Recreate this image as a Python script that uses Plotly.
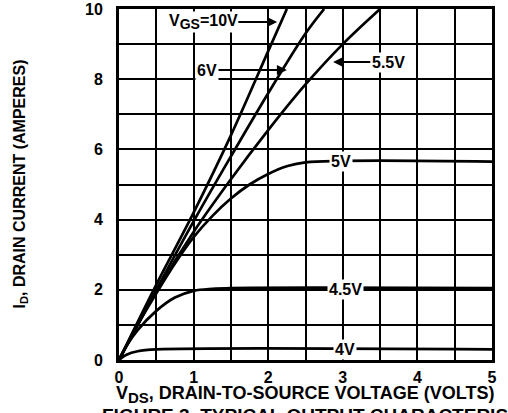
import plotly.graph_objects as go

# ---- data ----
vds_10 = [0, 0.5, 1.0, 1.5, 2.0, 2.25]
id_10 = [0, 2.15, 4.2, 6.4, 8.8, 10.0]

vds_6 = [0, 0.5, 1.0, 1.5, 2.0, 2.5, 2.75]
id_6 = [0, 2.0, 3.95, 5.8, 7.6, 9.3, 10.0]

vds_55 = [0, 0.5, 1.0, 1.5, 2.0, 2.5, 3.0, 3.5]
id_55 = [0, 1.95, 3.65, 5.15, 6.55, 7.85, 9.0, 10.0]

vds_5 = [0, 0.25, 0.5, 0.75, 1.0, 1.25, 1.5, 1.75, 2.0, 2.25, 2.5, 5.0]
id_5 = [0, 1.0, 1.9, 2.75, 3.5, 4.1, 4.6, 5.0, 5.3, 5.52, 5.63, 5.65]

vds_45 = [0, 0.1, 0.25, 0.5, 0.75, 1.0, 1.25, 1.5, 5.0]
id_45 = [0, 0.4, 0.85, 1.4, 1.78, 1.97, 2.03, 2.05, 2.05]

vds_4 = [0, 0.1, 0.25, 0.5, 5.0]
id_4 = [0, 0.15, 0.25, 0.3, 0.3]

x_ticks = [0, 1, 2, 3, 4, 5]
y_ticks = [0, 2, 4, 6, 8, 10]

curves = [(vds_10, id_10), (vds_6, id_6), (vds_55, id_55),
          (vds_5, id_5), (vds_45, id_45), (vds_4, id_4)]

FONT = "Liberation Sans"

fig = go.Figure()
for xs, ys in curves:
    fig.add_trace(go.Scatter(x=xs, y=ys, mode="lines",
                             line=dict(color="black", width=2.7, shape="spline"),
                             showlegend=False, hoverinfo="skip"))

fig.update_layout(
    width=508, height=413,
    margin=dict(l=119, r=16, t=9, b=53, autoexpand=False),
    paper_bgcolor="white", plot_bgcolor="white",
    font=dict(family=FONT, color="black"),
)
fig.update_xaxes(range=[0, 5], tickvals=x_ticks, showgrid=True, gridcolor="black", gridwidth=2,
                 minor=dict(dtick=0.5, showgrid=True, gridcolor="black", gridwidth=2),
                 showline=True, linecolor="black", linewidth=3, mirror=True, automargin=False,
                 zeroline=False, ticks="", ticklabelstandoff=1,
                 tickfont=dict(family=FONT, size=16, weight="bold", color="black"))
fig.update_yaxes(range=[0, 10], tickvals=y_ticks, showgrid=True, gridcolor="black", gridwidth=2,
                 minor=dict(dtick=1, showgrid=True, gridcolor="black", gridwidth=2),
                 showline=True, linecolor="black", linewidth=3, mirror=True, automargin=False,
                 zeroline=False, ticks="", ticklabelstandoff=10,
                 tickfont=dict(family=FONT, size=16, weight="bold", color="black"))

lab_font = dict(family=FONT, size=16, weight="bold", color="black")

# arrow labels
fig.add_annotation(x=2.12, y=9.63, ax=1.13, ay=9.63, axref="x", ayref="y",
                   text="V<sub><span style='font-size:14px'>GS</span></sub>=10V",
                   showarrow=True, arrowhead=2, arrowsize=1,
                   arrowwidth=2, arrowcolor="black", font=lab_font, bgcolor="white", borderpad=0)
fig.add_annotation(x=2.25, y=8.26, ax=1.18, ay=8.26, axref="x", ayref="y",
                   text="6V", showarrow=True, arrowhead=2, arrowsize=1,
                   arrowwidth=2, arrowcolor="black", font=lab_font, bgcolor="white", borderpad=1)
fig.add_annotation(x=2.87, y=8.49, ax=3.61, ay=8.49, axref="x", ayref="y",
                   text="5.5V", showarrow=True, arrowhead=2, arrowsize=1,
                   arrowwidth=2, arrowcolor="black", font=lab_font, bgcolor="white", borderpad=1)
# inline labels
for xv, yv, t in [(2.97, 5.65, "5V"), (3.03, 2.0, "4.5V"), (3.03, 0.3, "4V")]:
    fig.add_annotation(x=xv, y=yv, text=t, showarrow=False, font=lab_font,
                       bgcolor="white", borderpad=1)

# axis titles
fig.add_annotation(xref="paper", yref="paper", x=0.5, y=0, yshift=-34,
                   text="V<sub><span style='font-size:15px'>DS</span></sub>, DRAIN-TO-SOURCE VOLTAGE (VOLTS)",
                   showarrow=False,
                   font=dict(family=FONT, size=18, weight="bold", color="black"),
                   xanchor="center", yanchor="middle")
fig.add_annotation(xref="paper", yref="paper", x=0, xshift=-99, y=0.5,
                   text="I<sub>D</sub>, DRAIN CURRENT (AMPERES)",
                   showarrow=False, textangle=-90,
                   font=dict(family=FONT, size=16, weight="bold", color="black"),
                   xanchor="center", yanchor="middle")
# caption (cut off at bottom of the picture)
fig.add_annotation(xref="paper", yref="paper", x=0, xshift=-19, y=0, yshift=-55,
                   text="FIGURE 3. TYPICAL OUTPUT CHARACTERISTICS", showarrow=False,
                   font=dict(family=FONT, size=19, weight="bold", color="black"),
                   xanchor="left", yanchor="middle")

fig.write_html("out.html", config={"displayModeBar": False},
               post_script="document.body.style.margin='0';document.body.style.overflow='hidden';")
